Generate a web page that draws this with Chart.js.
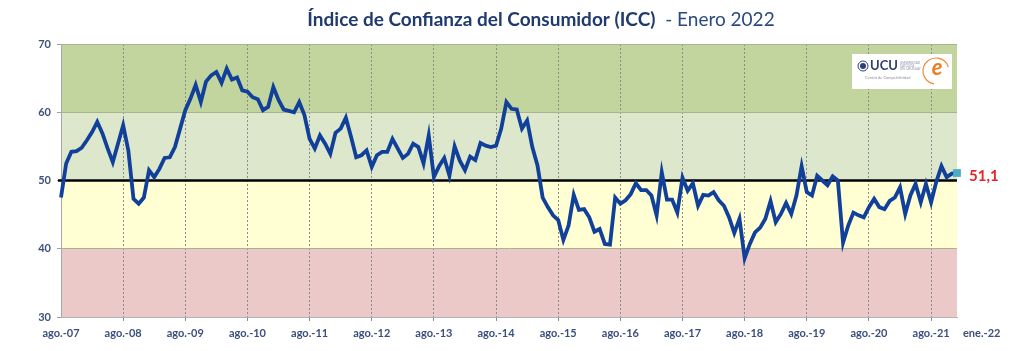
<!DOCTYPE html>
<html>
<head>
<meta charset="utf-8">
<script src="https://cdn.jsdelivr.net/npm/chart.js@4.4.1/dist/chart.umd.min.js"></script>
<style>
  html, body { margin: 0; padding: 0; background: #fff; }
  #wrap { width: 1024px; height: 351px; position: relative; }
</style>
</head>
<body>
<div id="wrap"><canvas id="icc" width="1024" height="351"></canvas></div>
<script>
// meses en español, serie desde ago.-07 hasta ene.-22
const meses = ['ene.', 'feb.', 'mar.', 'abr.', 'may.', 'jun.', 'jul.', 'ago.', 'sep.', 'oct.', 'nov.', 'dic.'];

// ICC mensual, cada fila = ago. a jul.
const icc = [
    47.5, 52.5, 54.2, 54.3, 54.8, 55.9, 57.1, 58.6, 56.9, 54.7, 52.7, 55.4,
    58.1, 54.4, 47.3, 46.6, 47.5, 51.5, 50.5, 51.7, 53.3, 53.4, 54.9, 57.6,
    60.3, 62.0, 64.0, 61.5, 64.5, 65.4, 65.9, 64.3, 66.4, 64.8, 65.1, 63.2,
    63.0, 62.2, 61.9, 60.3, 60.8, 63.7, 61.8, 60.4, 60.2, 60.0, 61.5, 59.6,
    56.1, 54.7, 56.6, 55.4, 53.9, 57.0, 57.6, 59.2, 56.4, 53.4, 53.7, 54.4,
    52.0, 53.7, 54.2, 54.2, 56.1, 54.7, 53.3, 53.9, 55.4, 54.9, 52.5, 56.6,
    50.5, 52.1, 53.3, 50.7, 55.0, 52.9, 51.5, 53.5, 53.0, 55.5, 55.1, 54.9,
    55.1, 57.6, 61.5, 60.5, 60.4, 57.6, 58.8, 54.9, 52.2, 47.5, 46.1, 44.9,
    44.2, 41.3, 43.4, 47.9, 45.7, 45.8, 44.6, 42.5, 42.9, 40.7, 40.6, 47.5,
    46.6, 47.1, 48.0, 49.6, 48.6, 48.6, 47.8, 44.9, 51.2, 47.2, 47.2, 45.3,
    50.4, 48.5, 49.6, 46.3, 47.9, 47.8, 48.3, 47.1, 46.3, 44.6, 42.3, 44.4,
    38.6, 40.7, 42.4, 43.1, 44.4, 47.0, 43.9, 45.1, 46.7, 45.1, 47.8, 52.1,
    48.3, 47.8, 50.7, 50.0, 49.3, 50.6, 50.0, 40.9, 43.4, 45.3, 44.9, 44.6,
    46.1, 47.3, 46.1, 45.8, 47.0, 47.5, 49.0, 45.1, 47.8, 49.5, 46.8, 49.5,
    46.8, 49.8, 52.1, 50.5, 51.0, 51.1
];

const etiquetasX = ['ago.-07', 'ago.-08', 'ago.-09', 'ago.-10', 'ago.-11', 'ago.-12', 'ago.-13',
    'ago.-14', 'ago.-15', 'ago.-16', 'ago.-17', 'ago.-18', 'ago.-19', 'ago.-20', 'ago.-21', 'ene.-22'];

const umbral = 50;
const ultimoValor = '51,1';

// zonas de fondo [desde, hasta]
const bandas = [
    [60, 70, '#c3d59f'],
    [50, 60, '#dde7cb'],
    [40, 50, '#ffffd3'],
    [30, 40, '#ecc9c9']
];

const categorias = [];
for (let i = 0; i < icc.length; i++) {
    const m = (7 + i) % 12;
    const a = 2007 + Math.floor((7 + i) / 12);
    categorias.push(meses[m] + '-' + String(a).slice(2));
}

const fondo = {
    id: 'fondo',
    beforeDraw(chart) {
        const { ctx, chartArea: a, scales: { y } } = chart;
        ctx.save();
        bandas.forEach(b => {
            const top = y.getPixelForValue(b[1]);
            const bot = y.getPixelForValue(b[0]);
            ctx.fillStyle = b[2];
            ctx.fillRect(a.left, top, a.right - a.left, bot - top);
        });
        ctx.restore();
    },
    beforeDatasetsDraw(chart) {
        const { ctx, chartArea: a, scales: { y } } = chart;
        const py = y.getPixelForValue(umbral);
        ctx.save();
        ctx.strokeStyle = '#000';
        ctx.lineWidth = 2.5;
        ctx.beginPath();
        ctx.moveTo(a.left - 3, py);
        ctx.lineTo(a.right, py);
        ctx.stroke();
        ctx.restore();
    },
    afterDraw(chart) {
        const { ctx, chartArea: a, scales: { x, y } } = chart;
        ctx.save();

        // titulo
        const t1 = 'Índice de Confianza del Consumidor (ICC)';
        const t2 = '  - Enero 2022';
        ctx.textBaseline = 'middle';
        ctx.font = 'bold 19px Lato';
        const w1 = ctx.measureText(t1).width;
        ctx.font = '19px Lato';
        const w2 = ctx.measureText(t2).width;
        let tx = 541 - (w1 + w2) / 2;
        ctx.textAlign = 'left';
        ctx.fillStyle = '#1f3a6e';
        ctx.font = 'bold 19px Lato';
        ctx.fillText(t1, tx, 20);
        ctx.fillStyle = '#2b4a80';
        ctx.font = '19px Lato';
        ctx.fillText(t2, tx + w1, 20);

        // etiquetas eje x
        ctx.font = 'bold 11px Lato';
        ctx.fillStyle = '#3b4f7f';
        etiquetasX.forEach(lbl => {
            const px = x.getPixelForValue(categorias.indexOf(lbl));
            if (lbl.startsWith('ene.')) {
                ctx.textAlign = 'left';
                ctx.fillText(lbl, px + 6, 333);
            } else {
                ctx.textAlign = 'center';
                ctx.fillText(lbl, px, 333);
            }
        });

        // valor final
        const last = icc.length - 1;
        ctx.font = 'bold 15px Lato';
        ctx.fillStyle = '#e3262b';
        ctx.textAlign = 'left';
        ctx.fillText(ultimoValor, x.getPixelForValue(last) + 12, y.getPixelForValue(icc[last]) + 3);

        // logo
        ctx.fillStyle = '#fff';
        ctx.fillRect(852, 54, 100, 35);
        ctx.strokeStyle = '#2e3f73';
        ctx.fillStyle = '#2e3f73';
        ctx.lineWidth = 1;
        ctx.beginPath();
        ctx.arc(863, 66, 5, 0, Math.PI * 2);
        ctx.stroke();
        ctx.beginPath();
        ctx.arc(863, 66, 3, 0, Math.PI * 2);
        ctx.fill();
        ctx.font = 'bold 13px Lato';
        ctx.textAlign = 'left';
        ctx.fillText('UCU', 870, 66);
        ctx.fillStyle = '#8a8f9e';
        ctx.font = '3px Lato';
        ctx.fillText('UNIVERSIDAD', 900, 63);
        ctx.fillText('CATÓLICA', 900, 66);
        ctx.fillText('DEL URUGUAY', 900, 69);
        ctx.font = '4px Lato';
        ctx.fillText('Centro de Competitividad', 865, 78);
        ctx.strokeStyle = '#f08a3a';
        ctx.lineWidth = 1.2;
        ctx.beginPath();
        ctx.arc(936, 71, 13, Math.PI * 0.55, Math.PI * 1.9);
        ctx.stroke();
        ctx.fillStyle = '#ef7d22';
        ctx.font = 'italic bold 22px Lato';
        ctx.textAlign = 'center';
        ctx.fillText('e', 937, 68);
        ctx.restore();
    }
};

const ctx = document.getElementById('icc').getContext('2d');
const chart = new Chart(ctx, {
    type: 'line',
    data: {
        labels: categorias,
        datasets: [{
            label: 'ICC',
            data: icc,
            borderColor: '#10409a',
            borderWidth: 3.8,
            tension: 0,
            clip: false,
            pointStyle: 'rect',
            pointRadius: c => (c.dataIndex === icc.length - 1 ? 5.5 : 0),
            pointBackgroundColor: '#4bacc6',
            pointBorderColor: '#4bacc6',
            pointBorderWidth: 0
        }]
    },
    options: {
        responsive: false,
        animation: false,
        layout: { padding: { left: 0, top: 44, right: 67, bottom: 0 } },
        plugins: {
            legend: { display: false },
            tooltip: { enabled: false }
        },
        scales: {
            x: {
                ticks: { display: false, autoSkip: false },
                grid: {
                    color: c => (c.index > 0 && c.index < icc.length - 1 && c.index % 12 === 0) ? '#8c8c8c' : 'rgba(0,0,0,0)',
                    tickLength: 4,
                    lineWidth: 1
                },
                border: { color: '#b4b4b4', dash: [2, 2] },
                afterFit: s => { s.height = 34; }
            },
            y: {
                min: 30,
                max: 70,
                ticks: {
                    stepSize: 10,
                    padding: 6,
                    color: '#3e4f78',
                    font: { family: 'Lato', size: 11, weight: 'bold' }
                },
                grid: {
                    color: c => (c.tick && c.tick.value === 50) ? 'rgba(0,0,0,0)' : '#a9b48f',
                    tickColor: '#a0a0a0',
                    tickLength: 4
                },
                border: { color: '#a8a8a8' },
                afterFit: s => { s.width = 61; }
            }
        }
    },
    plugins: [fondo]
});
</script>
</body>
</html>
